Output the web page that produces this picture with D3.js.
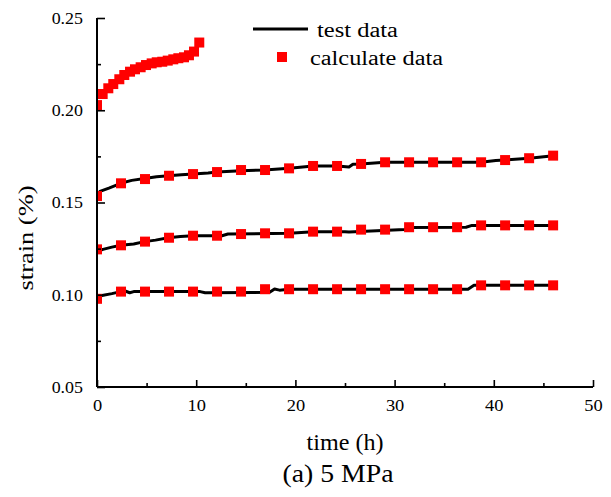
<!DOCTYPE html>
<html>
<head>
<meta charset="utf-8">
<script src="https://cdn.jsdelivr.net/npm/d3@7"></script>
<style>
  html, body { margin: 0; padding: 0; background: #fff; }
  svg { display: block; }
  text { font-family: "Liberation Serif", Tinos, "Times New Roman", serif; fill: #000; }
</style>
</head>
<body>
<svg id="chart" width="611" height="497"></svg>
<script>
// ---------- data ----------
const xTicks = [0, 10, 20, 30, 40, 50];
const yTicks = [0.05, 0.10, 0.15, 0.20, 0.25];
const xMinor = [5, 15, 25, 35, 45];
const yMinor = [0.075, 0.125, 0.175, 0.225];

// calculated-data squares (time h)
const calcTime = [0, 2.42, 4.84, 7.26, 9.68, 12.1, 14.52, 16.94, 19.36, 21.78,
                  24.2, 26.62, 29.04, 31.46, 33.88, 36.3, 38.72, 41.14, 43.56, 45.98];
const calcLow = [0.0978, 0.1017, 0.1017, 0.1017, 0.1017, 0.1017, 0.1017, 0.1030, 0.1030, 0.1030,
                 0.1030, 0.1030, 0.1030, 0.1030, 0.1030, 0.1030, 0.1051, 0.1051, 0.1051, 0.1051];
const calcMid = [0.1246, 0.1268, 0.1288, 0.1309, 0.1320, 0.1320, 0.1329, 0.1333, 0.1333, 0.1342,
                 0.1342, 0.1353, 0.1353, 0.1366, 0.1366, 0.1366, 0.1376, 0.1376, 0.1376, 0.1376];
const calcHigh = [0.1535, 0.1604, 0.1627, 0.1645, 0.1654, 0.1665, 0.1676, 0.1676, 0.1685, 0.1698,
                  0.1698, 0.1709, 0.1718, 0.1718, 0.1718, 0.1718, 0.1718, 0.1730, 0.1740, 0.1754];
const calcTopTime = [0, 0.57, 1.14, 1.64, 2.25, 2.75, 3.33, 3.83, 4.40, 4.94,
                     5.51, 6.02, 6.58, 7.13, 7.69, 8.20, 8.77, 9.27, 9.78, 10.31];
const calcTop = [0.2028, 0.2088, 0.2119, 0.2142, 0.2168, 0.2191, 0.2209, 0.2222, 0.2233, 0.2245,
                 0.2254, 0.2260, 0.2263, 0.2269, 0.2276, 0.2282, 0.2287, 0.2298, 0.2318, 0.2367];

// test-data lines
const testLowTime = [0, 0.5, 1.5, 2.4, 2.9, 3.3, 3.7, 10.4, 10.9, 17.4, 17.9, 18.4, 19.3, 37.4, 38.0, 46.0];
const testLow =     [0.0985, 0.0996, 0.1006, 0.1017, 0.1019, 0.1011, 0.1017, 0.1017, 0.1011, 0.1013, 0.1031, 0.1025, 0.1030, 0.1030, 0.1051, 0.1051];
const testMidTime = [0, 0.6, 1.5, 2.4, 3.7, 4.8, 5.9, 7.2, 8.4, 9.7, 12.6, 13.2, 19.4, 21.8, 25.0, 25.4, 31.0, 31.4, 37.2, 37.8, 46.0];
const testMid =     [0.1234, 0.1246, 0.1258, 0.1268, 0.1275, 0.1288, 0.1296, 0.1309, 0.1316, 0.1320, 0.1320, 0.1329, 0.1333, 0.1342, 0.1342, 0.1340, 0.1353, 0.1364, 0.1366, 0.1376, 0.1376];
const testHighTime = [0, 0.3, 1.2, 2.4, 3.5, 4.8, 6.0, 7.2, 8.5, 9.7, 11.2, 12.1, 14.5, 16.9, 19.4, 21.8, 24.2, 25.4, 25.8, 26.6, 29.0, 38.7, 40.2, 41.1, 43.6, 46.0];
const testHigh =     [0.1524, 0.1560, 0.1578, 0.1604, 0.1620, 0.1630, 0.1640, 0.1645, 0.1650, 0.1654, 0.1660, 0.1665, 0.1672, 0.1676, 0.1685, 0.1698, 0.1698, 0.1692, 0.1707, 0.1709, 0.1718, 0.1718, 0.1728, 0.1730, 0.1740, 0.1754];

const legendLabels = ["test data", "calculate data"];
const xTitle = "time (h)";
const yTitle = "strain (%)";
const caption = "(a) 5 MPa";

// ---------- layout ----------
const svg = d3.select("#chart");
const L = 97, R = 593, T = 18, B = 387;
const x = d3.scaleLinear().domain([0, 50]).range([L, R]);
const y = d3.scaleLinear().domain([0.05, 0.25]).range([B, T]);

function stretch(sel, sx) {
  sel.each(function () {
    const w = this.getComputedTextLength();
    d3.select(this).attr("textLength", w * sx).attr("lengthAdjust", "spacingAndGlyphs");
  });
}

svg.append("defs").append("clipPath").attr("id", "clip")
  .append("rect").attr("x", L).attr("y", 0).attr("width", R - L + 10).attr("height", B);

const plot = svg.append("g").attr("clip-path", "url(#clip)");

const line = d3.line().x(d => x(d[0])).y(d => y(d[1]));
[[testLowTime, testLow], [testMidTime, testMid], [testHighTime, testHigh]].forEach(([t, v]) => {
  plot.append("path")
    .datum(t.map((ti, i) => [ti, v[i]]))
    .attr("d", line)
    .attr("fill", "none")
    .attr("stroke", "#000")
    .attr("stroke-width", 3)
    .attr("stroke-linejoin", "round");
});

const S = 10;
function squares(t, v) {
  plot.append("g").selectAll("rect")
    .data(t.map((ti, i) => [ti, v[i]]))
    .join("rect")
    .attr("x", d => x(d[0]) - S / 2)
    .attr("y", d => y(d[1]) - S / 2)
    .attr("width", S).attr("height", S)
    .attr("fill", "#ff0000");
}
squares(calcTime, calcLow);
squares(calcTime, calcMid);
squares(calcTime, calcHigh);
squares(calcTopTime, calcTop);

// ---------- axes ----------
const gx = svg.append("g").attr("transform", `translate(0,${B})`)
  .call(d3.axisBottom(x).tickValues(xTicks).tickSize(-7).tickPadding(13).tickFormat(d3.format("d")));
const gxm = svg.append("g").attr("transform", `translate(0,${B})`)
  .call(d3.axisBottom(x).tickValues(xMinor).tickSize(-4).tickFormat(""));
const gy = svg.append("g").attr("transform", `translate(${L},0)`)
  .call(d3.axisLeft(y).tickValues(yTicks).tickSize(-8).tickPadding(14).tickFormat(d3.format(".2f")));
const gym = svg.append("g").attr("transform", `translate(${L},0)`)
  .call(d3.axisLeft(y).tickValues(yMinor).tickSize(-4).tickFormat(""));

[gx, gxm, gy, gym].forEach(g => {
  g.attr("font-family", null);
  g.select(".domain").attr("stroke", "#000").attr("stroke-width", 2);
  g.selectAll(".tick line").attr("stroke", "#000").attr("stroke-width", 1.6);
});
gxm.select(".domain").remove();
gym.select(".domain").remove();
gy.select(".domain").attr("d", `M0,${B}V${T}`);
gx.select(".domain").attr("d", `M${L},0H${R}`);

gx.selectAll(".tick text").attr("font-size", 16);
gy.selectAll(".tick text").attr("font-size", 16).attr("dy", "0.34em");
stretch(gx.selectAll(".tick text"), 1.15);
stretch(gy.selectAll(".tick text"), 1.12);

// ---------- titles ----------
const xt = svg.append("text").attr("x", 345).attr("y", 450).attr("text-anchor", "middle")
  .attr("font-size", 23).text(xTitle);
xt.attr("textLength", 77).attr("lengthAdjust", "spacingAndGlyphs");

const yt = svg.append("text").attr("transform", "translate(33,238) rotate(-90)")
  .attr("text-anchor", "middle").attr("font-size", 22).text(yTitle);
yt.attr("textLength", 105).attr("lengthAdjust", "spacingAndGlyphs");

const cap = svg.append("text").attr("x", 338).attr("y", 482).attr("text-anchor", "middle")
  .attr("font-size", 26).text(caption);
cap.attr("textLength", 111).attr("lengthAdjust", "spacingAndGlyphs");

// ---------- legend ----------
const lg = svg.append("g");
lg.append("line").attr("x1", 253).attr("x2", 308).attr("y1", 29).attr("y2", 29)
  .attr("stroke", "#000").attr("stroke-width", 3);
lg.append("rect").attr("x", 282 - 5).attr("y", 57 - 5).attr("width", 10).attr("height", 10).attr("fill", "#ff0000");
const lt1 = lg.append("text").attr("x", 317).attr("y", 37).attr("font-size", 20.5).text(legendLabels[0]);
const lt2 = lg.append("text").attr("x", 310).attr("y", 65).attr("font-size", 20.5).text(legendLabels[1]);
lt1.attr("textLength", 81).attr("lengthAdjust", "spacingAndGlyphs");
lt2.attr("textLength", 133).attr("lengthAdjust", "spacingAndGlyphs");
</script>
</body>
</html>
